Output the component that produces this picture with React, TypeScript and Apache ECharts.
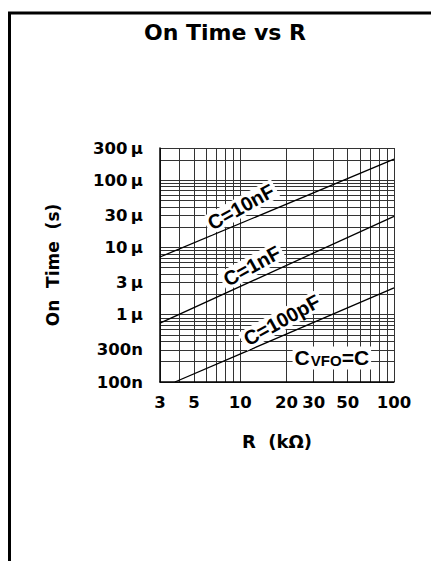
import React, { useEffect, useRef } from 'react';
import * as echarts from 'echarts';

// Grid lines (log-log paper)
const gridR = [3, 4, 5, 6, 7, 8, 9, 10, 20, 30, 40, 50, 60, 70, 80, 90, 100];
const xTickLabels = [3, 5, 10, 20, 30, 50, 100];
const gridT = [
  1e-7, 2e-7, 3e-7, 4e-7, 5e-7, 6e-7, 7e-7, 8e-7, 9e-7,
  1e-6, 2e-6, 3e-6, 4e-6, 5e-6, 6e-6, 7e-6, 8e-6, 9e-6,
  1e-5, 2e-5, 3e-5, 4e-5, 5e-5, 6e-5, 7e-5, 8e-5, 9e-5,
  1e-4, 2e-4, 3e-4,
];
const yTickValues = [1e-7, 3e-7, 1e-6, 3e-6, 1e-5, 3e-5, 1e-4, 3e-4];
const yTickLabels = ['100n', '300n', '1\u2009µ', '3\u2009µ', '10\u2009µ', '30\u2009µ', '100\u2009µ', '300\u2009µ'];

// Curves: On time vs R for each capacitance
const curveNames = ['C=10nF', 'C=1nF', 'C=100pF'];
const curveR = [
  [3, 100],
  [3, 100],
  [3.75, 100],
];
const curveT = [
  [7.2e-6, 2.05e-4],
  [7.5e-7, 2.9e-5],
  [1e-7, 2.5e-6],
];
// Label anchors (data coordinates)
const labelR = [10.1, 11.9, 18.6];
const labelT = [4.0e-5, 5.3e-6, 8.3e-7];
const noteR = 39.4;
const noteT = 2.28e-7;

const lg = (v: number) => Math.log10(v);
const FONT = 'DejaVu Sans';
const LFONT = 'Liberation Sans';

export default function App() {
  const ref = useRef<HTMLDivElement>(null);
  useEffect(() => {
    if (!ref.current) return;
    const chart = echarts.init(ref.current, null, { renderer: 'svg' });
    const xMin = lg(gridR[0]);
    const xMax = lg(gridR[gridR.length - 1]);
    const yMin = lg(gridT[0]);
    const yMax = lg(gridT[gridT.length - 1]);
    const yLabelVals = yTickValues.map(lg);
    const option: any = {
      animation: false,
      backgroundColor: '#fff',
      title: {
        text: 'On Time vs R',
        left: 225,
        textAlign: 'center',
        top: 21,
        padding: 0,
        textStyle: { fontFamily: FONT, fontWeight: 'bold', fontSize: 22, color: '#000' },
      },
      grid: { left: 160, right: 37, top: 148, bottom: 179, outerBoundsMode: 'none', containLabel: false },
      xAxis: {
        type: 'value',
        min: xMin,
        max: xMax,
        name: 'R  (kΩ)',
        nameLocation: 'middle',
        nameGap: 50,
        nameTextStyle: { fontFamily: FONT, fontWeight: 'bold', fontSize: 18, color: '#000' },
        axisLine: { show: true, onZero: false, lineStyle: { color: '#000', width: 1.5 } },
        axisTick: { show: false, customValues: gridR.map(lg) },
        splitLine: { show: true, lineStyle: { color: '#333', width: 1 } },
        axisLabel: {
          customValues: xTickLabels.map(lg),
          margin: 12,
          fontFamily: FONT,
          fontWeight: 'bold',
          fontSize: 16.5,
          color: '#000',
          formatter: (v: number) => String(Math.round(Math.pow(10, v))),
        },
      },
      yAxis: {
        type: 'value',
        min: yMin,
        max: yMax,
        name: 'On  Time  (s)',
        nameLocation: 'middle',
        nameGap: 99,
        nameTextStyle: { fontFamily: FONT, fontWeight: 'bold', fontSize: 17, color: '#000' },
        axisLine: { show: true, onZero: false, lineStyle: { color: '#000', width: 1.5 } },
        axisTick: { show: false, customValues: gridT.map(lg) },
        splitLine: { show: true, lineStyle: { color: '#333', width: 1 } },
        axisLabel: {
          customValues: yLabelVals,
          margin: 17,
          fontFamily: FONT,
          fontWeight: 'bold',
          fontSize: 16.5,
          color: '#000',
          formatter: (v: number) => {
            const i = yLabelVals.findIndex((t) => Math.abs(t - v) < 1e-6);
            return i >= 0 ? yTickLabels[i] : '';
          },
        },
      },
      series: curveNames.map((name, i) => ({
        type: 'line',
        name,
        data: curveR[i].map((r, j) => [lg(r), lg(curveT[i][j])]),
        symbol: 'none',
        clip: true,
        lineStyle: { color: '#000', width: 1.3 },
        z: 3,
      })),
    };
    chart.setOption(option);

    // Text annotations placed through the chart's own coordinate system
    const toPx = (r: number, t: number) =>
      chart.convertToPixel({ gridIndex: 0 }, [lg(r), lg(t)]) as number[];
    const curveLabels = curveNames.map((name, i) => {
      const p = toPx(labelR[i], labelT[i]);
      return {
        type: 'text',
        x: p[0],
        y: p[1],
        rotation: (29 * Math.PI) / 180,
        z: 50,
        style: {
          text: name,
          fontFamily: LFONT,
          fontWeight: 'bold',
          fontSize: 20,
          fill: '#000',
          align: 'center',
          verticalAlign: 'middle',
          backgroundColor: '#fff',
          padding: [0, 3],
        },
      };
    });
    const np = toPx(noteR, noteT);
    chart.setOption({
      graphic: [
        {
          type: 'polyline',
          shape: { points: [[9.5, 561], [9.5, 13], [431, 13]] },
          style: { stroke: '#000', lineWidth: 3, fill: 'none' },
          z: 60,
        },
        ...curveLabels,
        {
          type: 'text',
          x: np[0],
          y: np[1],
          z: 50,
          style: {
            text: '{a|C}{g| }{b|VFO}{a|=C}',
            align: 'center',
            verticalAlign: 'middle',
            backgroundColor: '#fff',
            padding: [1, 2],
            rich: {
              a: { fontFamily: LFONT, fontWeight: 'bold', fontSize: 21, fill: '#000', verticalAlign: 'bottom', lineHeight: 21 },
              g: { fontFamily: LFONT, fontSize: 4, verticalAlign: 'bottom', lineHeight: 21 },
              b: { fontFamily: LFONT, fontWeight: 'bold', fontSize: 15, fill: '#000', verticalAlign: 'bottom', lineHeight: 21 },
            },
          },
        },
      ],
    });
    return () => chart.dispose();
  }, []);
  return (
    <div
      ref={ref}
      style={{ position: 'fixed', left: 0, top: 0, width: 431, height: 561 }}
    />
  );
}
